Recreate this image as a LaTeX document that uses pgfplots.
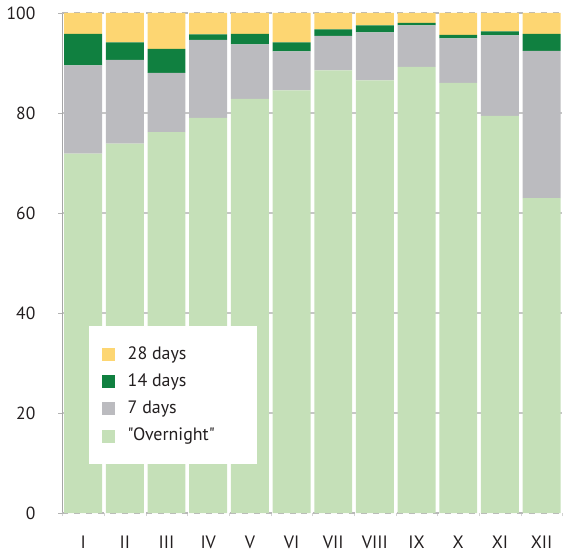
\documentclass[border=0pt]{standalone}
\usepackage{fontspec}
\setmainfont[Ligatures=TeXOff]{PT Sans}
\usepackage{pgfplots}
\pgfplotsset{compat=1.18}
\definecolor{dAA}{HTML}{FDD672}
\definecolor{dBB}{HTML}{108040}
\definecolor{dCC}{HTML}{BBBBBF}
\definecolor{dDD}{HTML}{C5E0B8}
\definecolor{txt}{HTML}{231F20}
\newcommand{\lent}[1]{\makebox[56bp][l]{#1}}
\begin{document}
\begin{tikzpicture}
\begin{axis}[
    scale only axis, width=250bp, height=250bp,
    ybar stacked, bar width=0.91,
    xmin=-0.5, xmax=11.5, ymin=0, ymax=100,
    separate axis lines,
    axis y line*=left, axis x line*=bottom,
    x axis line style={draw=none},
    y axis line style={draw=gray!70, line width=0.6bp},
    xtick={0,...,11},
    xticklabels={I,II,III,IV,V,VI,VII,VIII,IX,X,XI,XII},
    major x tick style={draw=none},
    minor xtick={-0.5,0.5,...,11.5},
    minor x tick style={draw=gray!35},
    minor tick length=1.5bp,
    ytick={20,40,60,80},
    extra y ticks={0,100},
    extra y tick style={grid style={dashed, gray!55, line width=0.6bp}},
    ymajorgrids,
    grid style={gray!45, line width=0.6bp},
    tick align=outside, major tick length=2bp,
    major y tick style={draw=gray!60},
    /pgf/number format/assume math mode=true,
    tick label style={font=\fontsize{8.8}{10}\selectfont, text=txt},
    yticklabel style={xshift=-8bp},
    xticklabel style={yshift=-6bp, font=\fontsize{9}{10}\selectfont},
    legend image code/.code={\fill[#1,draw=none] (0bp,-3.25bp) rectangle (6.5bp,3.25bp);},
    reverse legend,
    legend cell align=left,
    legend style={at={(0.052,0.374)}, anchor=north west, draw=none, fill=white,
        inner xsep=6.5bp, inner ysep=8bp, row sep=1.8bp,
        /tikz/every odd column/.append style={column sep=4.5bp},
        font=\fontsize{9}{11}\selectfont, text=txt},
]
\addplot[fill=dDD, draw=none] coordinates {(0,71.9) (1,73.9) (2,76.2) (3,79.0) (4,82.8) (5,84.5) (6,88.5) (7,86.5) (8,89.2) (9,86.0) (10,79.4) (11,63.0)};
\addlegendentry{\lent{"Overnight"}}
\addplot[fill=dCC, draw=none] coordinates {(0,17.6) (1,16.7) (2,11.8) (3,15.6) (4,10.9) (5,7.8) (6,6.9) (7,9.6) (8,8.3) (9,8.9) (10,16.1) (11,29.4)};
\addlegendentry{\lent{7 days}}
\addplot[fill=dBB, draw=none] coordinates {(0,6.3) (1,3.5) (2,4.8) (3,1.1) (4,2.1) (5,1.8) (6,1.3) (7,1.4) (8,0.5) (9,0.7) (10,0.8) (11,3.4)};
\addlegendentry{\lent{14 days}}
\addplot[fill=dAA, draw=none] coordinates {(0,4.2) (1,5.9) (2,7.2) (3,4.3) (4,4.2) (5,5.9) (6,3.3) (7,2.5) (8,2.0) (9,4.4) (10,3.7) (11,4.2)};
\addlegendentry{\lent{28 days}}
\end{axis}
\end{tikzpicture}
\end{document}
